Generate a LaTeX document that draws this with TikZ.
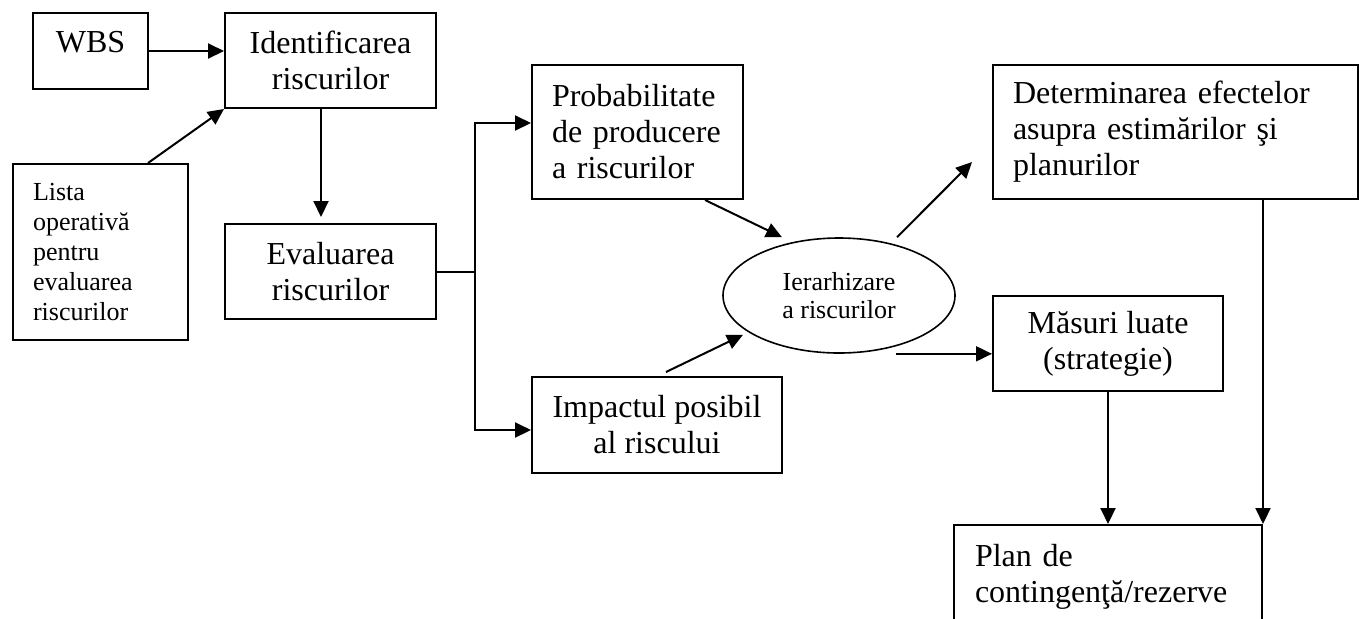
\documentclass[tikz,border=0pt]{standalone}
\usepackage{fontspec}
\setmainfont{Liberation Serif}
\usetikzlibrary{arrows.meta,shapes.geometric}

\begin{document}
\begin{tikzpicture}[x=0.5pt,y=-0.5pt,
		box/.style={draw,line width=1pt,inner sep=0pt,font=\fontsize{16}{18}\selectfont},
		arr/.style={-{Triangle[length=8pt,width=7.5pt]},line width=1pt}]
	\useasboundingbox (0,0) rectangle (1364,618);
	\clip (0,0) rectangle (1364,618);
	\node[box,minimum width=57.5pt,minimum height=38pt,text depth=9.5pt] (wbs) at (90.5,51) {WBS};
	\node[box,minimum width=105.5pt,minimum height=47.5pt,align=center] (ident) at (330.5,60.5) {Identificarea\\riscurilor};
	\node[box,minimum width=87.5pt,minimum height=88pt,text width=67.5pt,align=left,
		font=\fontsize{13}{15}\selectfont] (lista) at (100.5,252) {Lista\\operativă\\pentru\\evaluarea\\riscurilor};
	\node[box,minimum width=105.5pt,minimum height=47.5pt,align=center] (eval) at (330.5,271.5) {Evaluarea\\riscurilor};
	\node[box,minimum width=105.5pt,minimum height=67pt,text width=85.5pt,align=left] (prob) at (637.5,132) {Probabilitate\\de producere\\a riscurilor};
	\node[box,minimum width=125pt,minimum height=48pt,align=center] (impact) at (657,425) {Impactul posibil\\al riscului};
	\node[box,ellipse,line width=0.8pt,minimum width=116pt,minimum height=57.5pt,align=center,
		font=\fontsize{13}{14}\selectfont] (ier) at (839,295.5) {Ierarhizare\\a riscurilor};
	\node[box,minimum width=182.5pt,minimum height=67pt,text width=162.5pt,align=left] (determ) at (1175.5,132) {Determinarea efectelor\\asupra estimărilor şi\\planurilor};
	\node[box,minimum width=115pt,minimum height=47.5pt,align=center] (masuri) at (1108,343.5) {Măsuri luate\\(strategie)};
	\node[box,minimum width=154pt,minimum height=52pt,text width=133pt,align=left] (plan) at (1108,577) {Plan de\\contingenţă/rezerve};

	\coordinate (ierout) at ([xshift=28.5pt]ier.south);
	\draw[arr] (wbs) -- (wbs -| ident.west);
	\draw[arr] ([xshift=23.75pt]lista.north) -- (ident.south west);
	\draw[arr,shorten >=3pt] ([xshift=-4.75pt]ident.south) -- ([xshift=-4.75pt]eval.north);
	\draw[line width=1pt] (eval.east) -- ++(38,0) coordinate (fork);
	\draw[arr] (fork) |- ([yshift=4.5pt]prob.west);
	\draw[arr] (fork) |- ([yshift=-2.5pt]impact.west);
	\draw[arr] ([xshift=33.75pt]prob.south) -- ([xshift=-28.5pt]ier.north);
	\draw[arr] ([xshift=4.5pt,yshift=2pt]impact.north) -- ([xshift=-48pt,yshift=9.5pt]ier.south);
	\draw[arr] ([xshift=29pt]ier.north) -- ([xshift=-10pt,yshift=-15pt]determ.west);
	\draw[arr] (ierout) -- (ierout -| masuri.west);
	\draw[arr] (masuri.south) -- (plan.north);
	\draw[arr] (plan.north east |- determ.south) -- (plan.north east);
\end{tikzpicture}
\end{document}
